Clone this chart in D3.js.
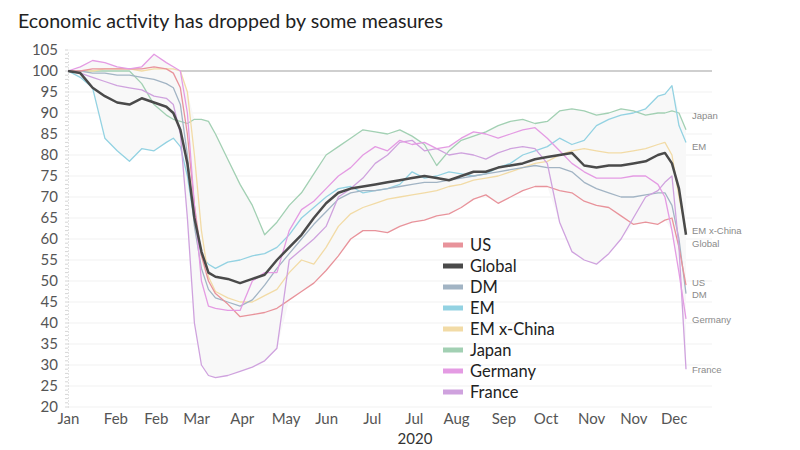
<!DOCTYPE html>
<html>
<head>
<meta charset="utf-8">
<script src="https://cdn.jsdelivr.net/npm/d3@7"></script>
<style>
  body { margin: 0; background: #fff; }
  svg { font-family: Lato, "Open Sans", sans-serif; }
</style>
</head>
<body>
<svg id="chart"></svg>
<script>
const days = [0, 7, 14, 21, 28, 35, 42, 49, 56, 60, 64, 68, 72, 76, 80, 84, 91, 98, 105, 112,
  119, 126, 133, 140, 147, 154, 161, 168, 175, 182, 189, 196, 203, 210, 217, 224, 231, 238,
  245, 252, 259, 266, 273, 280, 287, 294, 301, 308, 315, 322, 329, 336, 340, 344, 348, 352];

const usValues = [100, 100, 100.5, 100.5, 100.5, 100.5, 100.5, 101, 100.5, 99.5, 96, 85, 68, 56, 50, 47,
  44.5, 41.5, 42, 42.5, 43.5, 45.5, 47.5, 49.5, 52.5, 56, 60, 62, 62, 61.5, 63, 64, 64.5, 65.5, 66,
  67.5, 69.5, 70.5, 68.5, 70, 71.5, 72.5, 72.5, 71.5, 71, 69, 68, 67.5, 65.5, 63.5, 64, 63.5, 64.5,
  65, 58, 49];
const globalValues = [100, 99.5, 96, 94, 92.5, 92, 93.5, 92.5, 91.5, 90, 86, 78, 65, 57, 52, 51,
  50.5, 49.5, 50.5, 51.5, 55, 58, 61, 65, 68.5, 71, 72, 72.5, 73, 73.5, 74, 74.5, 75, 74.5, 74,
  75, 76, 76, 77, 77.5, 78, 79, 79.5, 80, 80.5, 77.5, 77, 77.5, 77.5, 78, 78.5, 80, 80.5, 78, 72, 61];
const dmValues = [100, 100, 99.5, 99.5, 99, 99, 98.5, 98, 97, 96, 92, 80, 63, 53, 48, 46,
  45, 44, 45.5, 49, 53, 56.5, 60, 63.5, 66.5, 69.5, 71, 71.5, 71.5, 72, 72.5, 73, 73.5, 73.5, 74,
  74.5, 75, 75.5, 76, 76.5, 77, 77.5, 77, 77, 76, 73.5, 72, 71, 70, 70, 70.5, 71, 71, 68, 60, 47];
const emValues = [100, 98.5, 96, 84, 81, 78.5, 81.5, 81, 83, 84, 82, 75, 64, 56, 54, 53,
  54.5, 55, 56, 56.5, 58, 61, 65, 67.5, 70, 72, 72.5, 71, 71.5, 72, 73, 76, 74.5, 75, 76,
  75.5, 75, 75.5, 77, 78, 80, 81, 82, 84, 82.5, 83.5, 87, 88.5, 89.5, 90, 91, 94, 94.5, 96.5, 87, 83];
const emxChinaValues = [100, 100, 100, 100.5, 100.5, 100.5, 100, 100.5, 100.5, 100.5, 100, 95, 80, 62, 51, 47.5,
  46, 45, 45, 46.5, 48, 52, 55, 54, 58, 63, 66, 67.5, 68.5, 69.5, 70, 70.5, 71, 71.5, 72.5,
  73, 74, 74.5, 75, 76, 77, 78, 78.5, 80, 81, 81.5, 81, 80.5, 80.5, 81, 81.5, 82.5, 83, 80, 70, 62];
const japanValues = [100, 100, 100, 100, 100, 100, 97, 92, 89.5, 88.5, 88, 87.5, 88.5, 88.5, 88, 85,
  79, 73, 68, 61, 64, 68, 71, 75.5, 80, 82, 84, 86, 85.5, 85, 86, 84.5, 82.5, 77.5, 81,
  83.5, 84.5, 85.5, 87, 88, 88.5, 87.5, 88, 90.5, 91, 90.5, 89.5, 90, 91, 90.5, 89.5, 90, 90,
  90.5, 90, 86];
const germanyValues = [100, 101, 102.5, 102, 101, 100.5, 101, 104, 102, 101, 100, 90, 68, 50, 44, 43.5,
  43, 43, 50, 52, 52, 62, 67, 69, 72, 75, 77, 80, 82, 81, 83.5, 82.5, 83, 81.5, 82,
  84, 85.5, 85, 84, 85, 86, 86.5, 84, 81, 78, 76, 74.5, 74.5, 74.5, 75, 75, 73, 70, 62, 52, 41];
const franceValues = [100, 99.5, 98.5, 97.5, 96.5, 96, 95.5, 94, 93.5, 92, 85, 65, 40, 30, 27.5, 27,
  27.5, 28.5, 29.5, 31, 34, 55, 57.5, 60, 63, 70, 72, 74.5, 78, 80, 83, 83.5, 81, 81.5, 80,
  80.5, 80, 79, 80.5, 81.5, 82, 81.5, 78, 64, 57, 55, 54, 56.5, 60, 65, 70, 71.5, 73.5, 75, 58, 29];

const seriesNames = ['US', 'Global', 'DM', 'EM', 'EM x-China', 'Japan', 'Germany', 'France'];
const seriesValues = [usValues, globalValues, dmValues, emValues, emxChinaValues, japanValues, germanyValues, franceValues];
const seriesColors = ['#e8939b', '#4a4a4a', '#a2b4c4', '#93d2e2', '#f2dba6', '#a2d0b3', '#e49be3', '#cfa2de'];

// value at which each end label sits
const endLabelValues = [49.5, 59, 46.7, 82.1, 62.1, 89.3, 40.7, 28.8];

const yTicks = d3.range(20, 106, 5);
const xTickDays = [0, 27, 50, 73, 99, 124, 147, 173, 197, 221, 248, 272, 298, 322, 345];
const xTickLabels = ['Jan', 'Feb', 'Feb', 'Mar', 'Apr', 'May', 'Jun', 'Jul', 'Jul', 'Aug', 'Sep', 'Oct', 'Nov', 'Nov', 'Dec'];

const width = 800, height = 450;
const svg = d3.select('#chart').attr('width', width).attr('height', height);

const xScale = d3.scaleLinear().domain([0, 352]).range([68, 686]);
const yScale = d3.scaleLinear().domain([20, 105]).range([407, 50]);
const gridRight = 712;

// title
svg.append('text')
  .attr('x', 18).attr('y', 28)
  .attr('font-size', 19.6)
  .attr('fill', '#222')
  .text('Economic activity has dropped by some measures');

// grid lines
svg.append('g').selectAll('line')
  .data(yTicks)
  .join('line')
  .attr('x1', 68).attr('x2', gridRight)
  .attr('y1', d => yScale(d)).attr('y2', d => yScale(d))
  .attr('stroke', d => d === 100 ? '#cfcfcf' : '#f1f1f1')
  .attr('stroke-width', d => d === 100 ? 2 : 1);

// shaded band between the lowest and highest series
const band = days.map((d, i) => ({
  day: d,
  lo: d3.min(seriesValues, s => s[i]),
  hi: d3.max(seriesValues, s => s[i])
}));
svg.append('path')
  .datum(band)
  .attr('fill', '#f8f8f8')
  .attr('d', d3.area()
    .x(d => xScale(d.day))
    .y0(d => yScale(d.lo))
    .y1(d => yScale(d.hi)));

// y axis
const yAxis = d3.axisLeft(yScale).tickValues(yTicks).tickSize(0).tickPadding(10);
const yAxisG = svg.append('g')
  .attr('transform', 'translate(68,0)')
  .call(yAxis);
yAxisG.select('.domain').attr('stroke', '#c8c8c8').attr('stroke-dasharray', '1,2');
yAxisG.selectAll('text').attr('font-size', 15).attr('fill', '#555').attr('font-family', 'Lato, sans-serif');

// minor ticks on the left axis
svg.append('g').selectAll('line')
  .data(d3.range(20, 105.1, 1))
  .join('line')
  .attr('x1', 65).attr('x2', 68)
  .attr('y1', d => yScale(d)).attr('y2', d => yScale(d))
  .attr('stroke', '#d6d6d6');

// x axis
const xAxis = d3.axisBottom(xScale)
  .tickValues(xTickDays)
  .tickFormat((d, i) => xTickLabels[i])
  .tickSize(0).tickPadding(6);
const xAxisG = svg.append('g')
  .attr('transform', `translate(0,${yScale(20)})`)
  .call(xAxis);
xAxisG.select('.domain').remove();
xAxisG.selectAll('text').attr('font-size', 15).attr('fill', '#555').attr('font-family', 'Lato, sans-serif');

svg.append('text')
  .attr('x', 415).attr('y', 444)
  .attr('text-anchor', 'middle')
  .attr('font-size', 15)
  .attr('fill', '#333')
  .text('2020');

// series lines, Global drawn last so it sits on top
const line = d3.line()
  .x(d => xScale(d[0]))
  .y(d => yScale(d[1]));

const order = [5, 3, 4, 2, 0, 7, 6, 1];
svg.append('g').selectAll('path')
  .data(order)
  .join('path')
  .attr('fill', 'none')
  .attr('stroke', i => seriesColors[i])
  .attr('stroke-width', i => seriesNames[i] === 'Global' ? 2.5 : 1.3)
  .attr('stroke-linejoin', 'round')
  .attr('d', i => line(days.map((d, j) => [d, seriesValues[i][j]])));

// end labels
svg.append('g').selectAll('text')
  .data(seriesNames)
  .join('text')
  .attr('x', 692)
  .attr('y', (d, i) => yScale(endLabelValues[i]))
  .attr('dy', '0.35em')
  .attr('font-family', 'Arial, "Liberation Sans", sans-serif')
  .attr('font-size', 9.5)
  .attr('fill', '#8a8a8a')
  .text(d => d);

// legend
const legend = svg.append('g').attr('transform', 'translate(443,245)');
const rows = legend.selectAll('g')
  .data(seriesNames)
  .join('g')
  .attr('transform', (d, i) => `translate(0,${i * 21})`);
rows.append('rect')
  .attr('x', 0).attr('y', -2.5)
  .attr('width', 20).attr('height', 5)
  .attr('fill', (d, i) => seriesColors[i]);
rows.append('text')
  .attr('x', 27).attr('dy', '0.35em')
  .attr('font-size', 16.5)
  .attr('fill', '#222')
  .text(d => d);
</script>
</body>
</html>
